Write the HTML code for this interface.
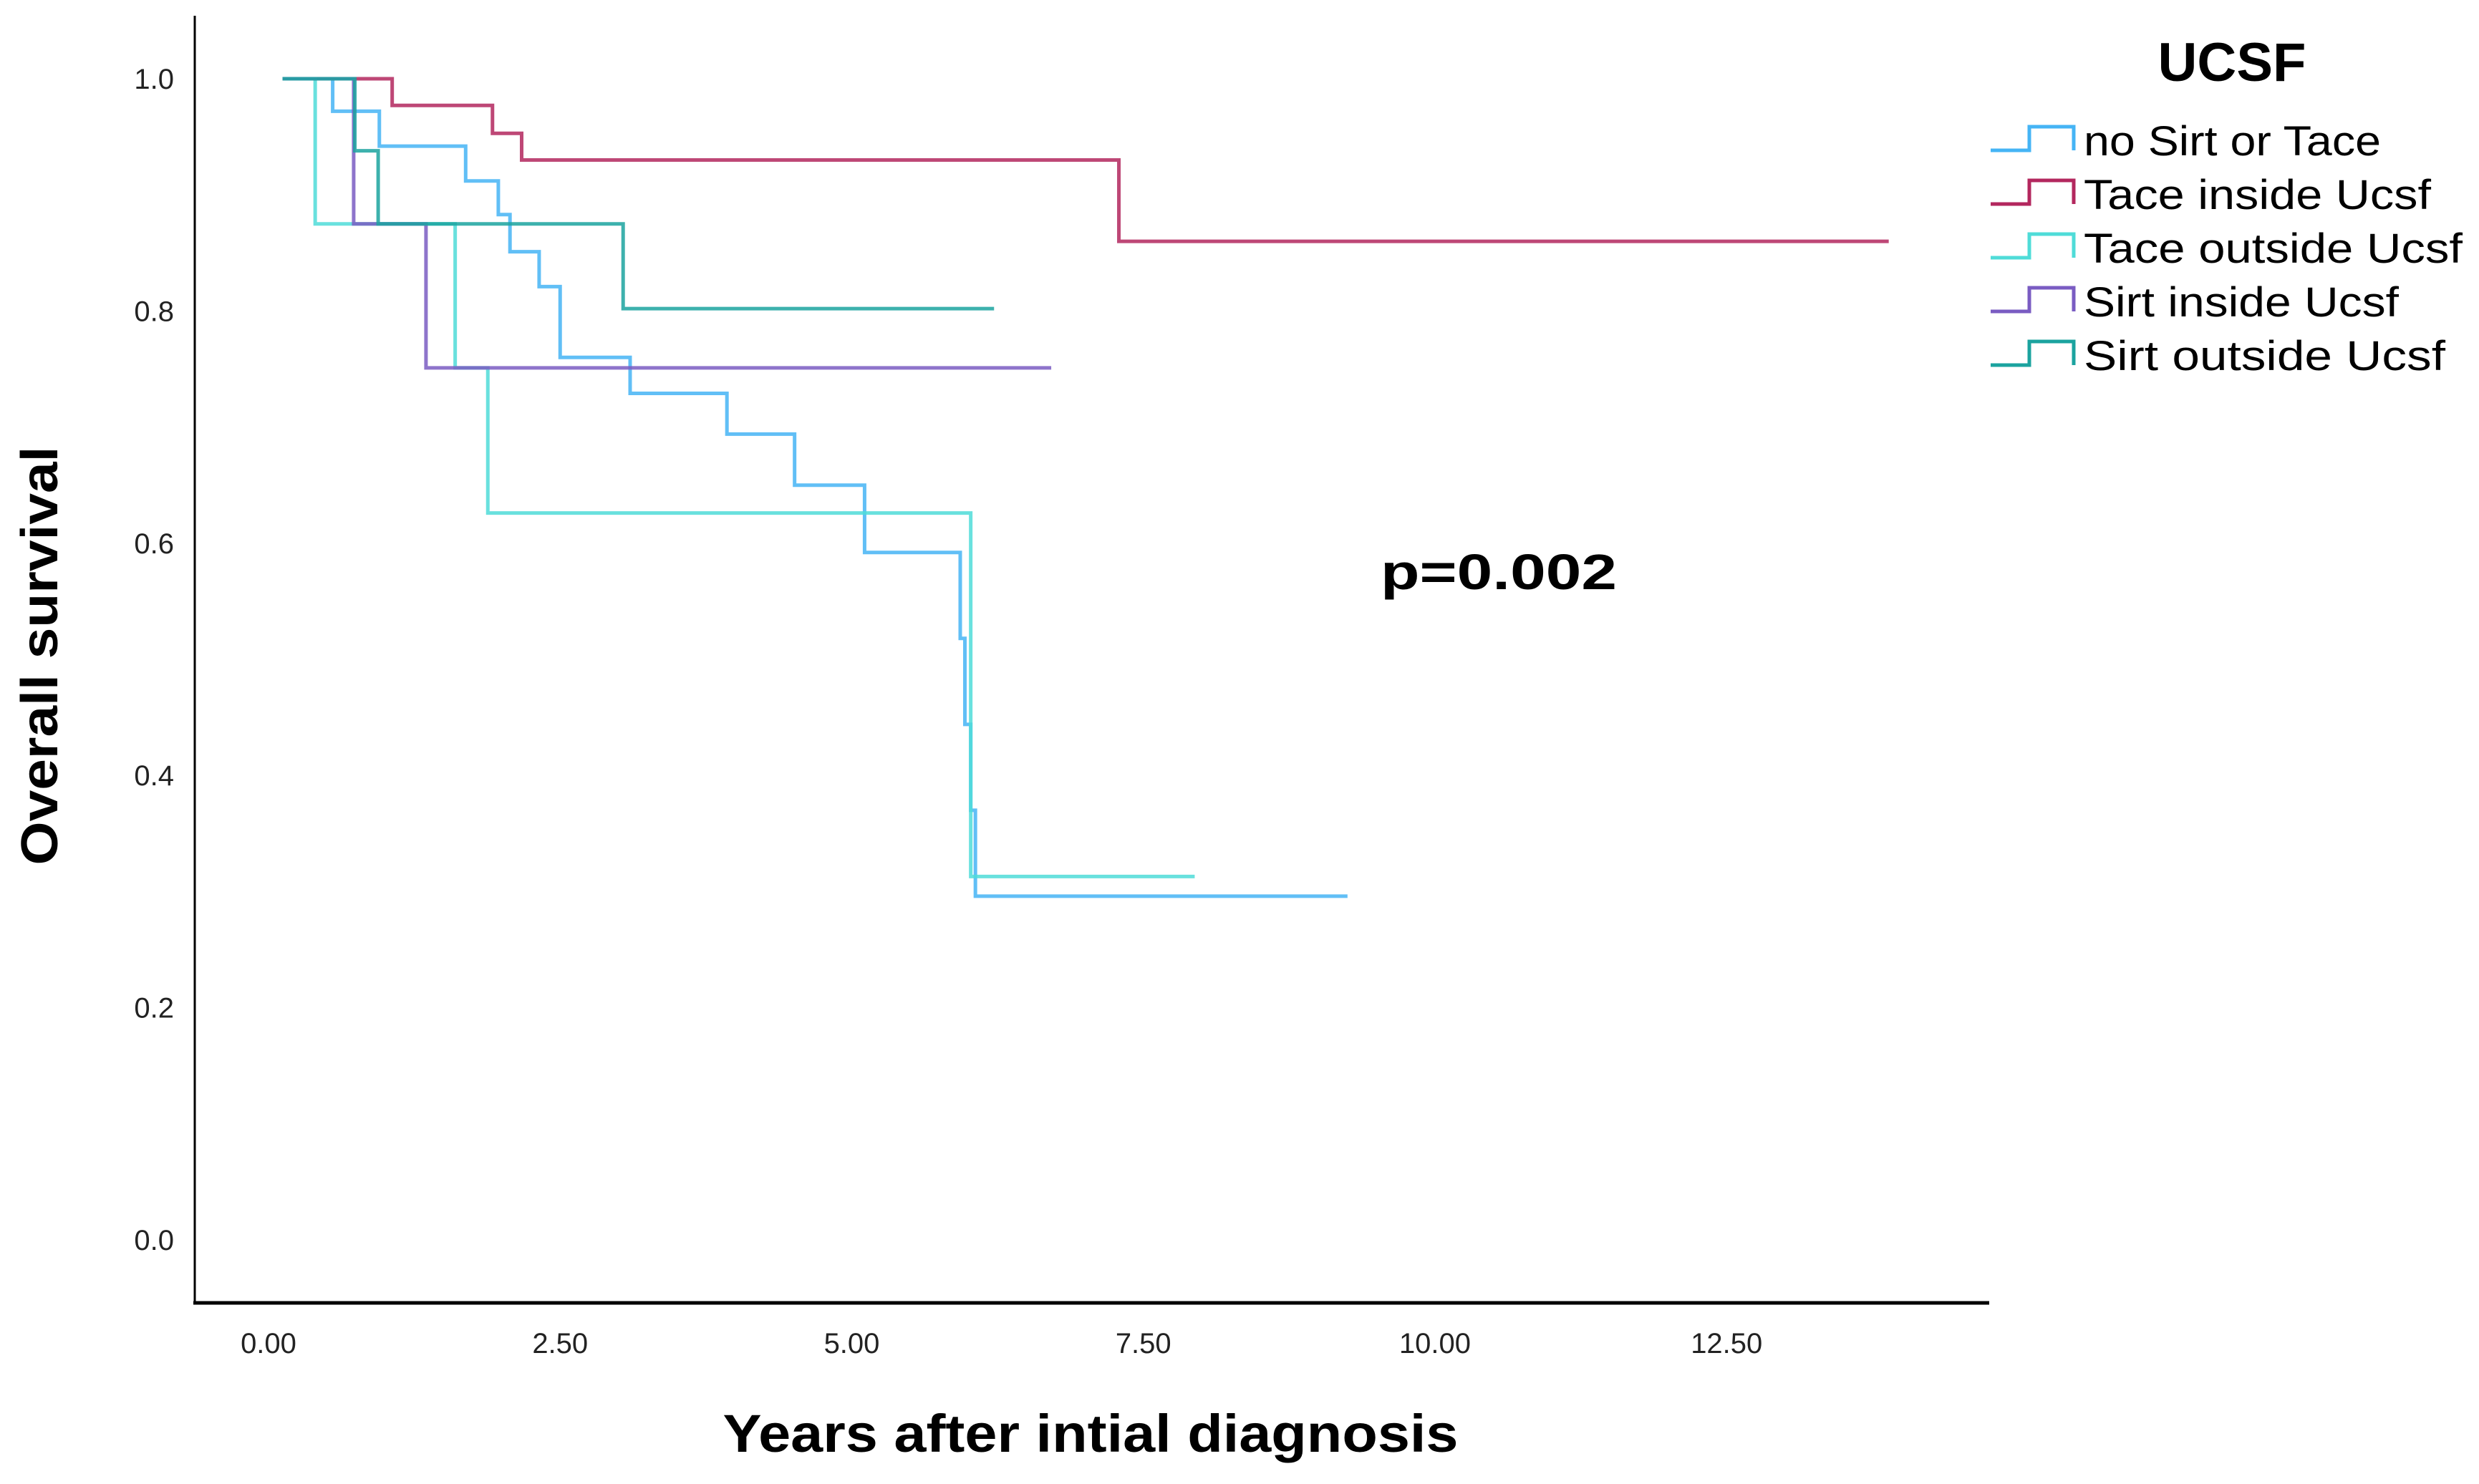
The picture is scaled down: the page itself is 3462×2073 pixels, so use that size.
<!DOCTYPE html>
<html><head><meta charset="utf-8"><style>
html,body{margin:0;padding:0;background:#fff;}
svg{display:block;font-family:"Liberation Sans",sans-serif;}
</style></head><body>
<svg id="chart" width="3462" height="2073" viewBox="0 0 3462 2073" xmlns="http://www.w3.org/2000/svg">
<g id="axes"></g>
<g id="curves"></g>
<g id="legend"></g>
<text x="1928" y="823" font-size="70" font-weight="bold" textLength="330" lengthAdjust="spacingAndGlyphs">p=0.002</text>
<text transform="translate(80,916) rotate(-90)" text-anchor="middle" font-size="72" font-weight="bold" textLength="585" lengthAdjust="spacingAndGlyphs">Overall survival</text>
<text x="1523" y="2028" text-anchor="middle" font-size="74" font-weight="bold" textLength="1027" lengthAdjust="spacingAndGlyphs">Years after intial diagnosis</text>
</svg>
<script>
var xTicks=[0,2.5,5,7.5,10,12.5];
var xTickLabels=["0.00","2.50","5.00","7.50","10.00","12.50"];
var yTicks=[0,0.2,0.4,0.6,0.8,1.0];
var yTickLabels=["0.0","0.2","0.4","0.6","0.8","1.0"];
var seriesNames=["no Sirt or Tace","Tace inside Ucsf","Tace outside Ucsf","Sirt inside Ucsf","Sirt outside  Ucsf"];
var seriesColors=["#45b4f5","#b3275e","#4fdcd8","#7a5cc2","#1ba39f"];
var noneTimes=[0.12,0.55,0.95,1.69,1.97,2.07,2.32,2.50,3.10,3.93,4.51,5.11,5.93,5.97,6.02,6.06,9.25];
var noneSurv=[1.0,0.972,0.942,0.912,0.883,0.851,0.821,0.760,0.729,0.694,0.650,0.592,0.518,0.444,0.370,0.296,0.296];
var taceInTimes=[0.12,1.06,1.92,2.17,7.29,13.89];
var taceInSurv=[1.0,0.977,0.953,0.930,0.860,0.860];
var taceOutTimes=[0.12,0.40,1.60,1.88,6.02,7.94];
var taceOutSurv=[1.0,0.875,0.751,0.626,0.313,0.313];
var sirtInTimes=[0.12,0.73,1.35,6.71];
var sirtInSurv=[1.0,0.875,0.751,0.751];
var sirtOutTimes=[0.12,0.74,0.94,3.04,6.22];
var sirtOutSurv=[1.0,0.938,0.875,0.802,0.802];

var NS="http://www.w3.org/2000/svg";
function xs(v){return 375+v*162.9;}
function ys(v){return 1732-v*1622;}
function mk(tag,attrs,parent){var e=document.createElementNS(NS,tag);for(var k in attrs)e.setAttribute(k,attrs[k]);parent.appendChild(e);return e;}
var axes=document.getElementById('axes');
var yl=mk('line',{x1:272,y1:22,x2:272,y2:1820,stroke:'#000','stroke-width':3},axes);


var xl=mk('line',{x1:270,y1:1820,x2:2778,y2:1820,stroke:'#000','stroke-width':5},axes);


xTicks.forEach(function(t,i){
  var tx=mk('text',{x:xs(t),y:1890,'text-anchor':'middle','font-size':40,fill:'#222'},axes);
  tx.textContent=xTickLabels[i];
  
  
});
yTicks.forEach(function(t,i){
  var tx=mk('text',{x:243,y:ys(t)+14,'text-anchor':'end','font-size':40,fill:'#222'},axes);
  tx.textContent=yTickLabels[i];
  
  
});
var curves=document.getElementById('curves');
var allT=[noneTimes,taceInTimes,taceOutTimes,sirtInTimes,sirtOutTimes];
var allS=[noneSurv,taceInSurv,taceOutSurv,sirtInSurv,sirtOutSurv];
var curveNames=['curve-no-sirt-or-tace','curve-tace-inside','curve-tace-outside','curve-sirt-inside','curve-sirt-outside'];
for(var s=0;s<5;s++){
  var T=allT[s],S=allS[s];
  var d='M'+xs(T[0])+' '+ys(S[0]);
  for(var i=1;i<T.length;i++){d+=' H'+xs(T[i])+' V'+ys(S[i]);}
  var p=mk('path',{d:d,fill:'none',stroke:seriesColors[s],'stroke-width':5,'stroke-opacity':0.85},curves);
  
  
}
var leg=document.getElementById('legend');
var tt=mk('text',{x:3117,y:113,'text-anchor':'middle','font-size':76,'font-weight':'bold'},leg);
tt.textContent='UCSF';


var widths=[415,485,529,440,505];
for(var k=0;k<5;k++){
  var by=210+k*75;
  var sy=mk('path',{d:'M2780 '+by+' H2834 V'+(by-33)+' H2896 V'+by,fill:'none',stroke:seriesColors[k],'stroke-width':5},leg);
  
  
  var lt=mk('text',{x:2910,y:by+7,'font-size':58,textLength:widths[k],lengthAdjust:'spacingAndGlyphs'},leg);
  lt.textContent=seriesNames[k];
  
  
}
</script>
</body></html>
